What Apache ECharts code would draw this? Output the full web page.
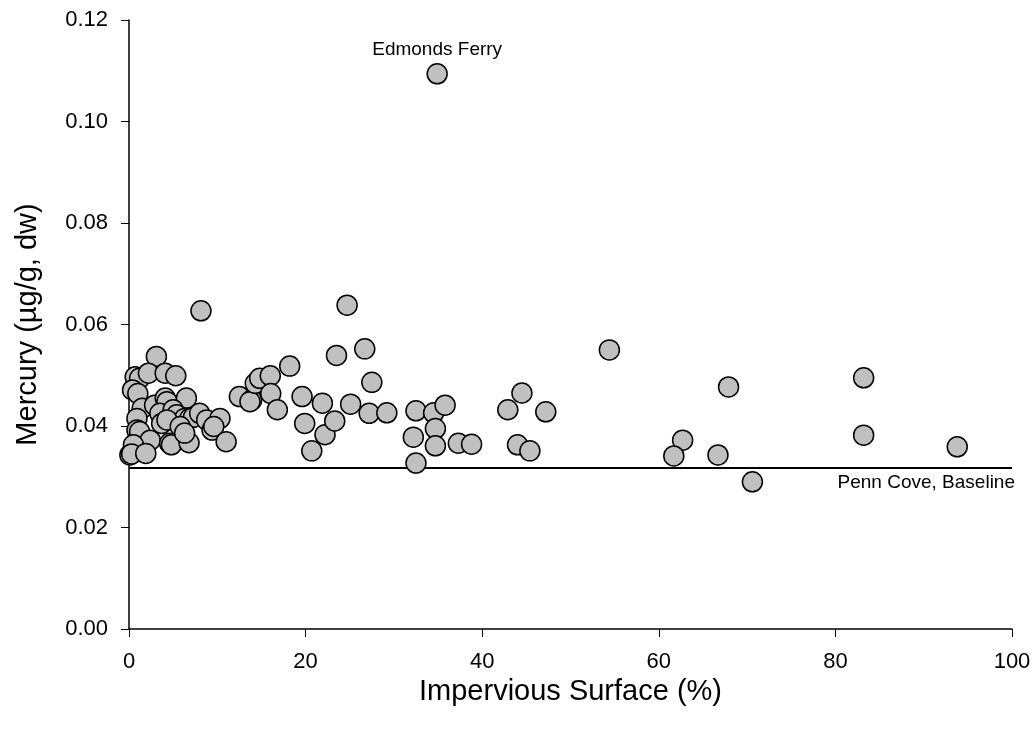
<!DOCTYPE html>
<html>
<head>
<meta charset="utf-8">
<script src="https://cdn.jsdelivr.net/npm/echarts@6/dist/echarts.min.js"></script>
<style>
  html, body { margin: 0; padding: 0; background: #fff; }
  #chart { width: 1035px; height: 732px; }
</style>
</head>
<body>
<div id="chart"></div>
<script>
// impervious surface (%) of each site
var imperv = [
  3.1, 0.7, 1.2, 2.2, 4.1, 5.3, 0.4, 1.0, 1.5, 2.9, 4.1, 4.3, 6.5, 3.5, 5.0, 5.4, 6.3, 6.9, 7.3, 8.0,
  8.8, 10.3, 9.4, 9.6, 11.0, 0.9, 0.9, 1.2, 2.4, 0.5, 0.1, 0.3, 1.9, 3.7, 4.3, 4.6, 4.8, 6.8, 5.8, 6.3,
  8.15,
  12.5, 13.9, 13.7, 14.3, 14.8, 16.0, 16.05, 16.8, 18.2, 19.6, 19.9, 20.7, 21.9, 22.2, 23.3, 23.5, 24.7, 25.1,
  26.7, 27.2, 27.5, 29.2, 32.2, 32.5, 32.5, 34.5, 34.7, 34.7, 35.8, 37.3, 38.8, 34.9,
  54.4, 44.5, 42.9, 47.2, 44.0, 45.4, 62.7, 61.7, 66.7, 70.6, 67.9, 83.2, 83.2, 93.8
];
// mercury (ug/g dw), same order
var mercury = [
  0.0537, 0.0497, 0.0494, 0.0504, 0.0504, 0.0499, 0.0471, 0.0464, 0.0435, 0.0441, 0.0455, 0.0448, 0.0455, 0.0425, 0.0432, 0.0422, 0.0415, 0.0415, 0.0417, 0.0425,
  0.0412, 0.0415, 0.0392, 0.0399, 0.0369, 0.0415, 0.0392, 0.0389, 0.0372, 0.0363, 0.0343, 0.0345, 0.0346, 0.0405, 0.0412, 0.0366, 0.0363, 0.0367, 0.0399, 0.0386,
  0.0627,
  0.0458, 0.0451, 0.0448, 0.0484, 0.0494, 0.0499, 0.0464, 0.0432, 0.0518, 0.0458, 0.0405, 0.0351, 0.0445, 0.0383, 0.0410, 0.0539, 0.0638, 0.0443,
  0.0552, 0.0425, 0.0486, 0.0426, 0.0378, 0.0430, 0.0327, 0.0426, 0.0395, 0.0361, 0.0441, 0.0366, 0.0364, 0.1094,
  0.0550, 0.0465, 0.0432, 0.0428, 0.0363, 0.0351, 0.0372, 0.0341, 0.0343, 0.0290, 0.0477, 0.0495, 0.0382, 0.0359
];
var labelled = { 'Edmonds Ferry': 0.1094 };
var baselineName = 'Penn Cove, Baseline';
var baselineValue = 0.0317;
var baselineX = [0, 100];
var xTicks = [0, 20, 40, 60, 80, 100];
var yTicks = [0, 0.02, 0.04, 0.06, 0.08, 0.10, 0.12];

var font = 'Liberation Sans, Arial, sans-serif';

//点数据
var points = imperv.map(function (x, i) {
  var p = { value: [x, mercury[i]] };
  for (var name in labelled) {
    if (labelled[name] === mercury[i]) {
      p.label = {
        show: true, formatter: name, position: 'top', distance: 4,
        color: '#000', fontSize: 19, fontFamily: font
      };
    }
  }
  return p;
});

var chart = echarts.init(document.getElementById('chart'));
chart.setOption({
  animation: false,
  grid: { left: 129, right: 23, top: 20, bottom: 103 },
  xAxis: {
    type: 'value',
    min: xTicks[0], max: xTicks[xTicks.length - 1], interval: 20,
    name: 'Impervious Surface (%)', nameLocation: 'middle', nameGap: 47,
    nameTextStyle: { fontSize: 29, color: '#000', fontFamily: font },
    axisLine: { onZero: false, lineStyle: { color: '#000', width: 1.5 } },
    axisTick: { show: true, length: 8, lineStyle: { color: '#000', width: 1 } },
    axisLabel: { fontSize: 22, color: '#000', fontFamily: font, margin: 22 },
    splitLine: { show: false }
  },
  yAxis: {
    type: 'value',
    min: yTicks[0], max: yTicks[yTicks.length - 1], interval: 0.02,
    name: 'Mercury (\u00b5g/g, dw)', nameLocation: 'middle', nameGap: 87,
    nameTextStyle: { fontSize: 29, color: '#000', fontFamily: font },
    axisLine: { show: true, onZero: false, lineStyle: { color: '#000', width: 1.5 } },
    axisTick: { show: true, length: 8, lineStyle: { color: '#000', width: 1 } },
    axisLabel: {
      fontSize: 22, color: '#000', fontFamily: font, margin: 21,
      formatter: function (v) { return v.toFixed(2); }
    },
    splitLine: { show: false }
  },
  series: [
    {
      type: 'line',
      data: baselineX.map(function (x) { return [x, baselineValue]; }),
      symbol: 'none',
      lineStyle: { color: '#000', width: 2 },
      z: 1,
      endLabel: {
        show: true, formatter: baselineName, position: 'insideEndBottom',
        color: '#000', fontSize: 19, fontFamily: font,
        align: 'right', offset: [-5, 15]
      }
    },
    {
      type: 'scatter',
      data: points,
      symbol: 'circle',
      symbolSize: 20,
      itemStyle: { color: '#c0c0c0', borderColor: '#000', borderWidth: 1.5, opacity: 1 },
      z: 3
    }
  ]
});
</script>
</body>
</html>
